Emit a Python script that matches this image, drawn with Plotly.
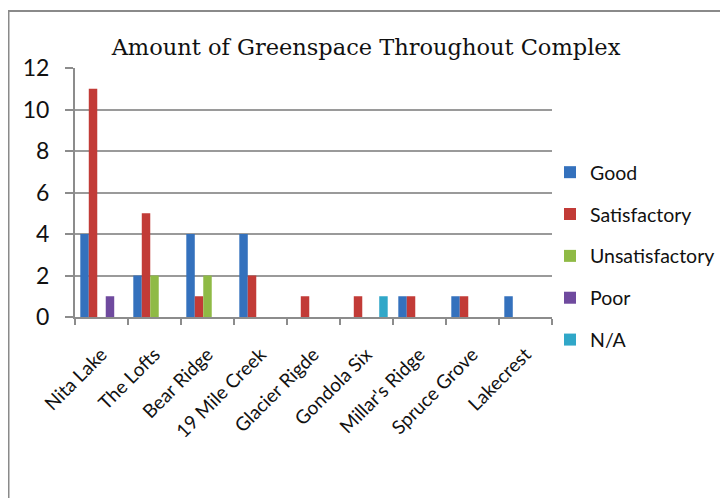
import plotly.graph_objects as go

categories = ["Nita Lake", "The Lofts", "Bear Ridge", "19 Mile Creek", "Glacier Rigde",
              "Gondola Six", "Millar's Ridge", "Spruce Grove", "Lakecrest"]
series_names = ["Good", "Satisfactory", "Unsatisfactory", "Poor", "N/A"]
good = [4, 2, 4, 4, 0, 0, 1, 1, 1]
satisfactory = [11, 5, 1, 2, 1, 1, 1, 1, 0]
unsatisfactory = [0, 2, 2, 0, 0, 0, 0, 0, 0]
poor = [1, 0, 0, 0, 0, 0, 0, 0, 0]
na = [0, 0, 0, 0, 0, 1, 0, 0, 0]
series_values = [good, satisfactory, unsatisfactory, poor, na]
colors = ["#3471bd", "#c23b37", "#8fba45", "#6f4a9e", "#30a7c8"]
y_ticks = [0, 2, 4, 6, 8, 10, 12]

# the page adds an 8px body margin, so the figure is drawn 8px smaller
W, H = 720, 490
L, R, T, B = 67, 544, 60, 309  # plot area in figure pixels

fig = go.Figure()
for i, (name, vals) in enumerate(zip(series_names, series_values)):
    fig.add_trace(go.Bar(x=categories, y=vals, name=name, marker_color=colors[i],
                         marker_line_width=0, legendgroup=name))

def px_x(p):
    return (p - L) / (R - L)

def px_y(p):
    return (B - p) / (B - T)

fig.update_layout(
    width=W, height=H,
    margin=dict(l=L, r=W - R, t=T, b=H - B, autoexpand=False),
    paper_bgcolor="white", plot_bgcolor="white",
    barmode="group", bargap=0.2, bargroupgap=0,
    title=dict(text="Amount of Greenspace Throughout Complex",
               font=dict(family="DejaVu Serif", size=22.5, color="#111"),
               x=358 / W, xanchor="center", xref="container", y=1 - 39 / H, yanchor="middle"),
    font=dict(family="Lato", color="#111"),
    legend=dict(x=px_x(542), xanchor="left", y=px_y(145), yanchor="top",
                font=dict(family="Lato", size=19.5, color="#111"),
                tracegroupgap=13.5, bgcolor="rgba(0,0,0,0)"),
    xaxis=dict(type="category", showgrid=False, showline=True, linecolor="#8c8c8c", linewidth=2,
               ticks="outside", tickson="boundaries", ticklen=6, tickcolor="#8c8c8c", tickwidth=2,
               tickangle=-45, ticklabelstandoff=17,
               tickfont=dict(family="Lato", size=19, color="#111")),
    yaxis=dict(range=[0, 12], tickvals=y_ticks, showgrid=True, gridcolor="#9a9a9a", gridwidth=2,
               showline=True, linecolor="#8c8c8c", linewidth=2, ticks="outside", ticklen=8,
               tickcolor="#8c8c8c", tickwidth=2, zeroline=False, ticklabelstandoff=11,
               tickfont=dict(family="Lato", size=23, color="#111")),
)

fig.add_shape(type="rect", xref="paper", yref="paper",
              x0=px_x(0.5), x1=px_x(740), y0=px_y(510), y1=px_y(3),
              line=dict(color="#8a8a8a", width=2), fillcolor="rgba(0,0,0,0)", layer="below")

fig.write_html("out.html")
